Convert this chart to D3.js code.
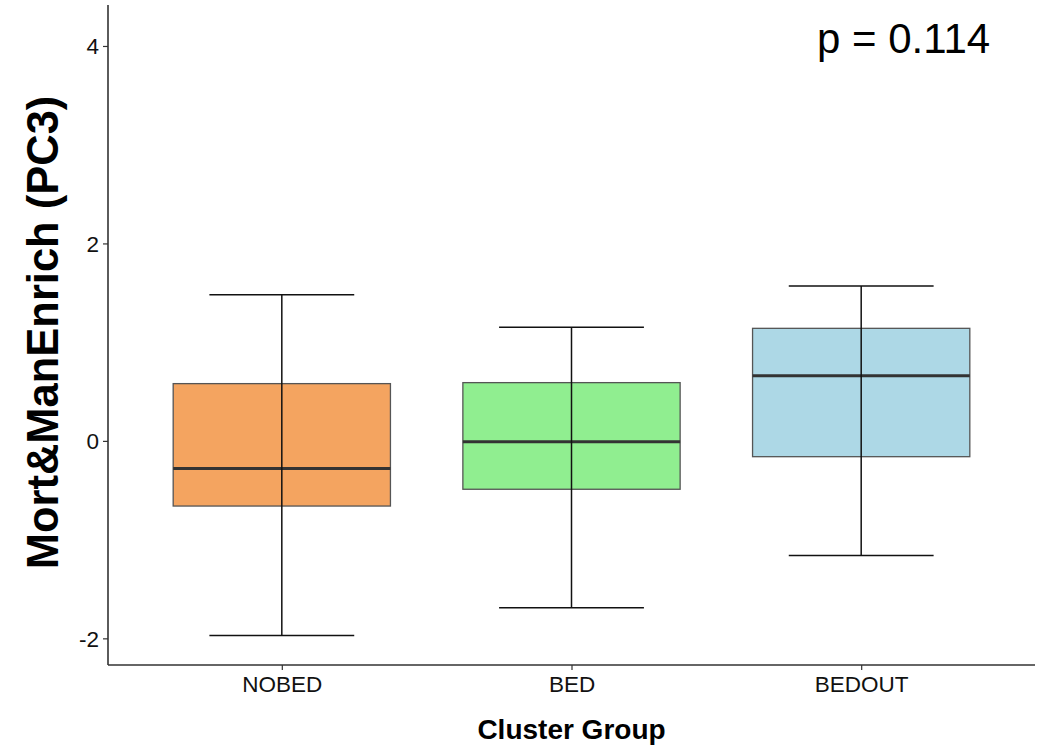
<!DOCTYPE html>
<html>
<head>
<meta charset="utf-8">
<script src="https://cdn.jsdelivr.net/npm/d3@7"></script>
<style>
  body { margin: 0; background: #fff; }
  svg { display: block; }
</style>
</head>
<body>
<div id="chart"></div>
<script>
const groups = ['NOBED', 'BED', 'BEDOUT'];
const whiskerLow = [-1.97, -1.69, -1.16];
const q1 = [-0.66, -0.49, -0.16];
const median = [-0.28, -0.01, 0.66];
const q3 = [0.58, 0.59, 1.14];
const whiskerHigh = [1.48, 1.15, 1.57];
const fills = ['#F4A460', '#90EE90', '#ADD8E6'];
const yTicks = [-2, 0, 2, 4];
const pLabel = 'p = 0.114';

const width = 1042, height = 748;
const plotLeft = 108, plotRight = 1035, plotTop = 5, plotBottom = 665;

const svg = d3.select('#chart')
  .append('svg')
  .attr('width', width)
  .attr('height', height);

const x = d3.scalePoint()
  .domain(groups)
  .range([plotLeft, plotRight])
  .padding(0.6);

const y = d3.scaleLinear()
  .domain([-2.27, 4.415])
  .range([plotBottom, plotTop]);

const step = x.step();
const boxW = step * 0.75;
const capW = step * 0.5;

const rows = groups.map((g, i) => ({
  g, lo: whiskerLow[i], q1: q1[i], med: median[i], q3: q3[i], hi: whiskerHigh[i], fill: fills[i]
}));

// boxes
const box = svg.append('g')
  .selectAll('g')
  .data(rows)
  .join('g');

box.append('rect')
  .attr('x', d => x(d.g) - boxW / 2)
  .attr('width', boxW)
  .attr('y', d => y(d.q3))
  .attr('height', d => y(d.q1) - y(d.q3))
  .attr('fill', d => d.fill)
  .attr('stroke', '#555')
  .attr('stroke-width', 1.3);

box.append('line')
  .attr('x1', d => x(d.g) - boxW / 2)
  .attr('x2', d => x(d.g) + boxW / 2)
  .attr('y1', d => y(d.med))
  .attr('y2', d => y(d.med))
  .attr('stroke', '#333')
  .attr('stroke-width', 3);

// error bars drawn on top
box.append('line')
  .attr('x1', d => x(d.g))
  .attr('x2', d => x(d.g))
  .attr('y1', d => y(d.lo))
  .attr('y2', d => y(d.hi))
  .attr('stroke', '#111')
  .attr('stroke-width', 1.5);

box.selectAll('line.cap')
  .data(d => [d.lo, d.hi].map(v => ({ g: d.g, v })))
  .join('line')
  .attr('class', 'cap')
  .attr('x1', d => x(d.g) - capW / 2)
  .attr('x2', d => x(d.g) + capW / 2)
  .attr('y1', d => y(d.v))
  .attr('y2', d => y(d.v))
  .attr('stroke', '#111')
  .attr('stroke-width', 1.5);

// axes
const yAxis = svg.append('g')
  .attr('transform', `translate(${plotLeft},0)`)
  .call(d3.axisLeft(y).tickValues(yTicks).tickFormat(d => String(d))
    .tickSize(5).tickPadding(4).tickSizeOuter(0));

const xAxis = svg.append('g')
  .attr('transform', `translate(0,${plotBottom})`)
  .call(d3.axisBottom(x).tickSize(5).tickPadding(6).tickSizeOuter(0));

for (const ax of [xAxis, yAxis]) {
  ax.select('.domain').attr('stroke', '#333').attr('stroke-width', 1.6);
  ax.selectAll('.tick line').attr('stroke', '#333').attr('stroke-width', 1.2);
  ax.selectAll('.tick text')
    .attr('fill', '#111')
    .attr('font-family', 'Liberation Sans, Arial, sans-serif')
    .attr('font-size', 22.5);
}
yAxis.selectAll('.tick text').attr('dy', '0.35em');
// extend axis lines to the corner
yAxis.select('.domain').attr('d', `M0,${plotTop}V${plotBottom}`);
xAxis.select('.domain').attr('d', `M${plotLeft},0H${plotRight}`);

// titles
svg.append('text')
  .attr('x', (plotLeft + plotRight) / 2)
  .attr('y', 739)
  .attr('text-anchor', 'middle')
  .attr('font-family', 'Liberation Sans, Arial, sans-serif')
  .attr('font-weight', 'bold')
  .attr('font-size', 28)
  .attr('fill', '#000')
  .text('Cluster Group');

svg.append('text')
  .attr('transform', `translate(58,${(95 + 570) / 2}) rotate(-90)`)
  .attr('text-anchor', 'middle')
  .attr('font-family', 'Liberation Sans, Arial, sans-serif')
  .attr('font-weight', 'bold')
  .attr('font-size', 43.5)
  .attr('fill', '#000')
  .text('Mort&ManEnrich (PC3)');

svg.append('text')
  .attr('x', 817)
  .attr('y', 53)
  .attr('font-family', 'Liberation Sans, Arial, sans-serif')
  .attr('font-size', 42)
  .attr('fill', '#000')
  .text(pLabel);
</script>
</body>
</html>
